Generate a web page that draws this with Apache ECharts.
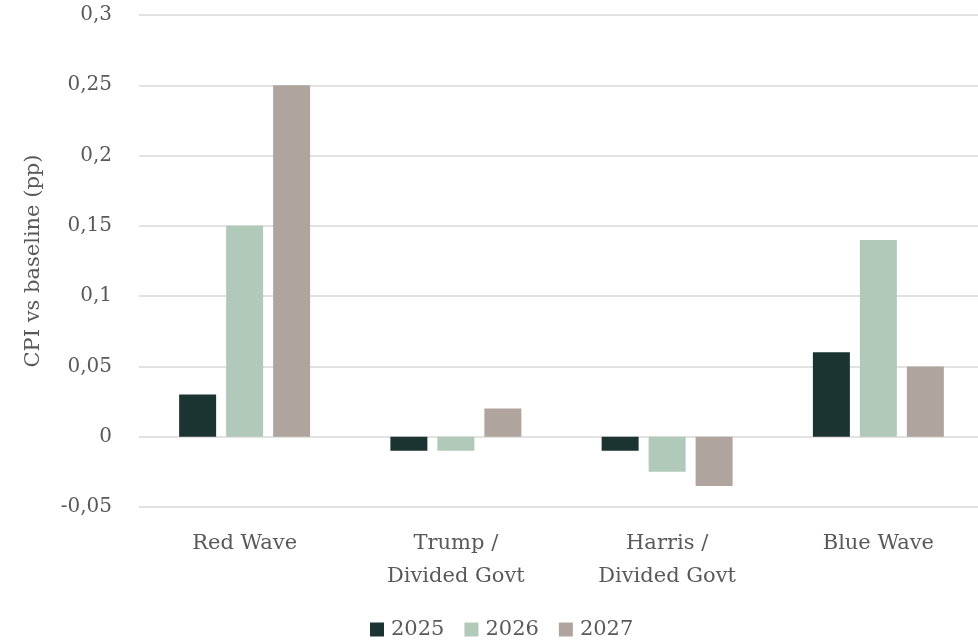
<!DOCTYPE html>
<html>
<head>
<meta charset="utf-8">
<script src="https://cdn.jsdelivr.net/npm/echarts@6/dist/echarts.min.js"></script>
<style>html,body{margin:0;padding:0;background:#fff;}#c{width:978px;height:643px;}</style>
</head>
<body>
<div id="c"></div>
<script>
const categories = ['Red Wave', 'Trump /\nDivided Govt', 'Harris /\nDivided Govt', 'Blue Wave'];
const s2025 = [0.03, -0.01, -0.01, 0.06];
const s2026 = [0.15, -0.01, -0.025, 0.14];
const s2027 = [0.25, 0.02, -0.035, 0.05];
const seriesNames = ['2025', '2026', '2027'];
const colors = ['#1b3431', '#b0c9b8', '#b0a49e'];

const font = 'DejaVu Serif';
const textColor = '#595959';
const chart = echarts.init(document.getElementById('c'));
const values = [s2025, s2026, s2027];
chart.setOption({
  animation: false,
  textStyle: { fontFamily: font },
  grid: { left: 139, width: 845, top: 15, height: 492, containLabel: false, outerBoundsMode: 'none' },
  legend: {
    top: 619,
    left: 370,
    padding: 0,
    itemWidth: 14,
    itemHeight: 14,
    itemGap: 20,
    icon: 'rect',
    textStyle: { fontFamily: font, fontSize: 21, color: textColor, padding: [0, 0, 0, 2] },
    data: seriesNames
  },
  xAxis: {
    type: 'category',
    data: categories,
    axisLine: { show: false },
    axisTick: { show: false },
    axisLabel: { fontFamily: font, fontSize: 21, color: textColor, lineHeight: 33, margin: 20, interval: 0 }
  },
  yAxis: {
    type: 'value',
    min: -0.05,
    max: 0.3,
    interval: 0.05,
    name: 'CPI vs baseline (pp)',
    nameLocation: 'middle',
    nameGap: 95,
    nameTextStyle: { fontFamily: font, fontSize: 21, color: textColor },
    axisLine: { show: false },
    axisTick: { show: false },
    splitLine: { lineStyle: { color: '#d9d9d9', width: 1.5 } },
    axisLabel: {
      fontFamily: font, fontSize: 20, color: textColor, margin: 27,
      formatter: v => String(Math.round(v * 1000) / 1000).replace('.', ',')
    }
  },
  series: seriesNames.map((n, i) => ({
    name: n,
    type: 'bar',
    data: values[i],
    barWidth: 37,
    barGap: '27%',
    itemStyle: { color: colors[i] }
  }))
});
</script>
</body>
</html>
